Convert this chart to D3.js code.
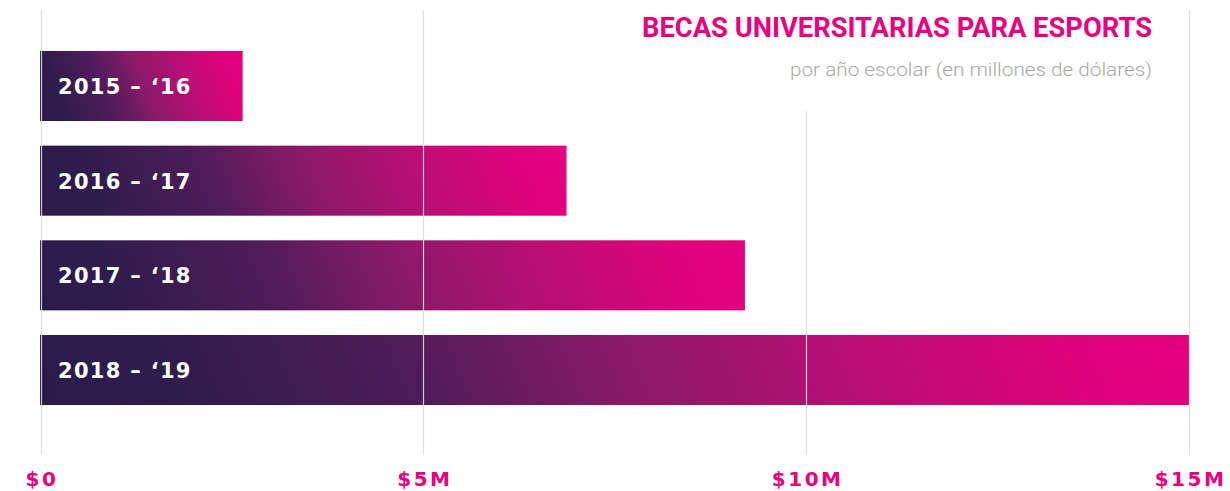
<!DOCTYPE html>
<html>
<head>
<meta charset="utf-8">
<script src="https://cdn.jsdelivr.net/npm/d3@7"></script>
<style>
  html, body { margin: 0; padding: 0; background: #fff; }
  svg { display: block; }
</style>
</head>
<body>
<svg id="chart" width="1230" height="491"></svg>
<script>
const categories = ["2015 – ‘16", "2016 – ‘17", "2017 – ‘18", "2018 – ‘19"];
const values = [2.64, 6.87, 9.2, 15];
const tickValues = [0, 5, 10, 15];
const tickLabels = ["$0", "$5M", "$10M", "$15M"];
const title = "BECAS UNIVERSITARIAS PARA ESPORTS";
const subtitle = "por año escolar (en millones de dólares)";

const svg = d3.select("#chart");

const x = d3.scaleLinear().domain([0, 15]).range([40.5, 1189]);
const y = d3.scaleBand().domain(categories).range([38.65, 417.35]).paddingInner(0.26).paddingOuter(0.13);

const stops = [[0, "#2a1c4a"], [0.12, "#2f1c4c"], [0.33, "#4f1c59"], [0.5, "#871a68"], [0.7, "#b80f74"], [0.88, "#db037b"], [1, "#e6007e"]];
const defs = svg.append("defs");
const ang = 22 * Math.PI / 180;
categories.forEach((c, i) => {
  const x0 = x(0) - 0.5, yb = y(c) + y.bandwidth();
  const w = x(values[i]) - x0, h = y.bandwidth();
  const L = w * Math.cos(ang) + h * Math.sin(ang);
  const g = defs.append("linearGradient").attr("id", "grad" + i)
    .attr("gradientUnits", "userSpaceOnUse")
    .attr("x1", x0).attr("y1", yb)
    .attr("x2", x0 + L * Math.cos(ang)).attr("y2", yb - L * Math.sin(ang));
  stops.forEach(([o, col]) => g.append("stop").attr("offset", o).attr("stop-color", col));
});

// bars
svg.append("g").selectAll("rect").data(categories).join("rect")
  .attr("x", x(0) - 0.5)
  .attr("y", d => y(d))
  .attr("width", (d, i) => x(values[i]) - x(0) + 0.5)
  .attr("height", y.bandwidth())
  .attr("fill", (d, i) => `url(#grad${i})`);

// gridlines (drawn over bars)
const gridTop = {0: 10, 5: 10, 10: 111, 15: 10};
svg.append("g").selectAll("line").data(tickValues).join("line")
  .attr("x1", d => Math.round(x(d)) + 0.5)
  .attr("x2", d => Math.round(x(d)) + 0.5)
  .attr("y1", d => gridTop[d])
  .attr("y2", 455)
  .attr("stroke", "#dcdcdc")
  .attr("stroke-opacity", 0.9)
  .attr("stroke-width", 1.2);

// bar labels
svg.append("g").selectAll("text").data(categories).join("text")
  .attr("x", 58)
  .attr("y", d => y(d) + y.bandwidth() / 2 + 8)
  .attr("fill", "#ffffff")
  .attr("font-family", "DejaVu Sans")
  .attr("font-weight", 700)
  .attr("font-size", 21)
  .attr("letter-spacing", 1.3)
  .text(d => d);

// axis tick labels
const axis = d3.axisBottom(x).tickValues(tickValues).tickFormat((d, i) => tickLabels[i]).tickSize(0).tickPadding(0);
const gAxis = svg.append("g").attr("transform", "translate(0,470)").call(axis);
gAxis.select(".domain").remove();
gAxis.selectAll("text")
  .attr("y", 16)
  .attr("dy", 0)
  .attr("dx", 1)
  .attr("fill", "#e6007e")
  .attr("font-family", "DejaVu Sans")
  .attr("font-weight", 700)
  .attr("font-size", 20)
  .attr("letter-spacing", 2.5);

// title
svg.append("text")
  .attr("x", 1152).attr("y", 37)
  .attr("text-anchor", "end")
  .attr("fill", "#e6007e")
  .attr("font-family", "Roboto")
  .attr("font-weight", 700)
  .attr("font-size", 27)
  .attr("textLength", 510)
  .attr("lengthAdjust", "spacingAndGlyphs")
  .text(title);

svg.append("text")
  .attr("x", 1152).attr("y", 76)
  .attr("text-anchor", "end")
  .attr("fill", "#a8a8a8")
  .attr("font-family", "Roboto")
  .attr("font-weight", 300)
  .attr("font-size", 19)
  .attr("textLength", 362)
  .attr("lengthAdjust", "spacingAndGlyphs")
  .text(subtitle);
</script>
</body>
</html>
